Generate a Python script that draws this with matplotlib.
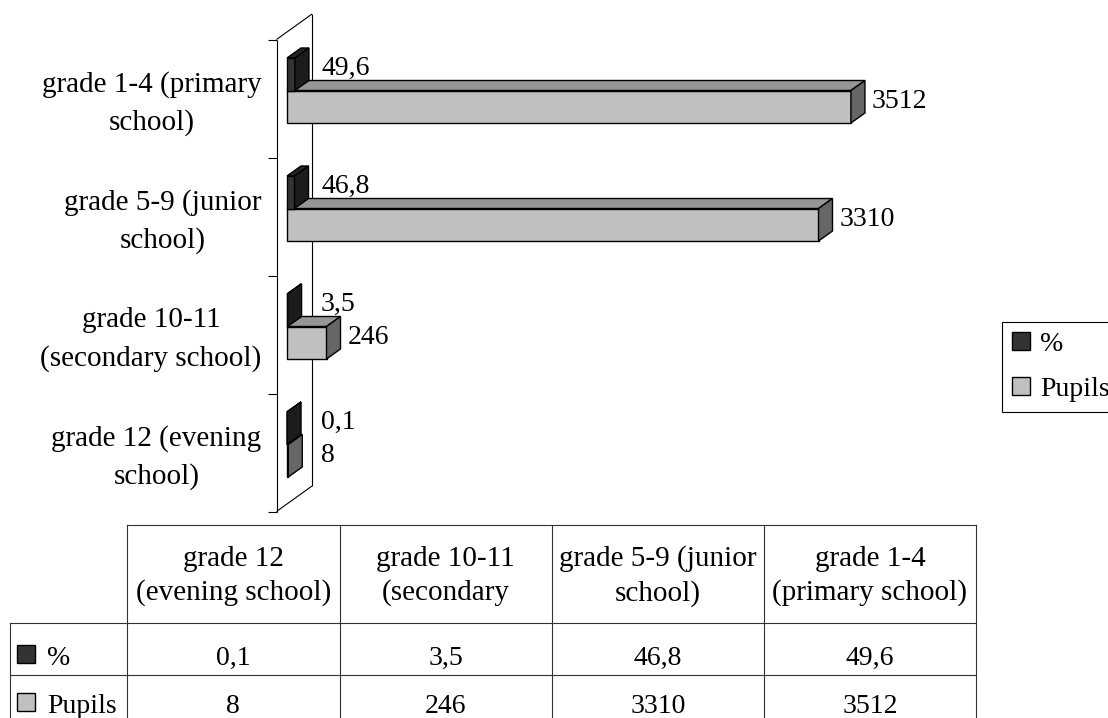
import matplotlib
matplotlib.use("Agg")
import matplotlib.pyplot as plt
from matplotlib.patches import Rectangle, Polygon, Patch
from matplotlib.lines import Line2D
from matplotlib.transforms import Affine2D

plt.rcParams['font.family'] = ['Liberation Serif', 'DejaVu Serif']

W, H = 1108, 718

# groups from the bottom of the chart to the top (= table columns left to right)
axis_labels = ["grade 12 (evening\nschool)", "grade 10-11\n(secondary school)",
               "grade 5-9 (junior\nschool)", "grade 1-4 (primary\nschool)"]
table_labels = ["grade 12\n(evening school)", "grade 10-11\n(secondary",
                "grade 5-9 (junior\nschool)", "grade 1-4\n(primary school)"]
series = ["%", "Pupils"]
percent = [0.1, 3.5, 46.8, 49.6]
pupils = [8, 246, 3310, 3512]

# front / top / side shades of each series
shades = {"%": ("#333333", "#262626", "#1c1c1c"),
          "Pupils": ("#c0c0c0", "#969696", "#666666")}


def fmt(v):
    return f"{v:g}".replace(".", ",")


fig = plt.figure(figsize=(W / 100, H / 100), dpi=100)
ax = fig.add_axes([287 / W, 1 - 503.5 / H, 642.3 / W, 472 / H])
ax.set_xlim(0, 4000)
ax.set_ylim(-0.5, 3.5)
ax.axis('off')

sx = 4000 / 642.3   # data units per pixel
sy = 4 / 472
dx, dy = 14 * sx, 10 * sy      # depth of a bar
bh = 32.5 * sy                 # thickness of a bar
fx, fy = -10.5 * sx, -8 * sy   # front wall
bx, by = 25 * sx, 17.5 * sy    # back wall

wall = dict(color='black', lw=0.8, solid_capstyle='butt', zorder=1, clip_on=False)
ax.plot([bx, bx], [-0.5 + by, 3.5 + by], **wall)
ax.plot([fx, fx], [-0.5 + fy, 3.5 + fy], **wall)
for yy in (-0.5, 3.5):
    ax.plot([fx, bx], [yy + fy, yy + by], **wall)
for yt in (-0.5, 0.5, 1.5, 2.5, 3.5):
    ax.plot([fx - 9 * sx, fx], [yt + fy, yt + fy], **wall)


def bar3d(y0, v, colors, z):
    fc, tc, sc = colors
    kw = dict(ec='black', lw=1.0, joinstyle='miter', zorder=z, clip_on=False)
    ax.add_patch(Rectangle((0, y0), v, bh, fc=fc, **kw))
    ax.add_patch(Polygon([(0, y0 + bh), (v, y0 + bh), (v + dx, y0 + bh + dy),
                          (dx, y0 + bh + dy)], closed=True, fc=tc, **kw))
    ax.add_patch(Polygon([(v, y0), (v + dx, y0 + dy), (v + dx, y0 + bh + dy),
                          (v, y0 + bh)], closed=True, fc=sc, **kw))


for i in range(len(axis_labels)):
    bar3d(i - bh, pupils[i], shades["Pupils"], 3)
    bar3d(i, percent[i], shades["%"], 4)

    ax.text(max(percent[i] + 21 * sx, 34 * sx), i + bh / 2 + 6 * sy, fmt(percent[i]),
            ha='left', va='center', fontsize=20, zorder=6)
    ax.text(max(pupils[i] + 21 * sx, 34 * sx), i - bh / 2 + 5 * sy, fmt(pupils[i]),
            ha='left', va='center', fontsize=20, zorder=6)

    ax.text(fx - 15 * sx, i + fy - 5 * sy, axis_labels[i], ha='right', va='center',
            multialignment='center', fontsize=21, linespacing=1.55)

handles = [Patch(fc=shades[s][0], ec='black', lw=1.0) for s in series]
leg = fig.legend(handles, series, loc='upper left', bbox_to_anchor=(1002 / W, 1 - 322 / H),
                 borderaxespad=0, fancybox=False, edgecolor='black', framealpha=1,
                 fontsize=20, handlelength=0.65, handleheight=0.65, handletextpad=0.36,
                 borderpad=0.35, labelspacing=0.72)
leg.get_frame().set_linewidth(0.8)

# data table below the chart, laid out in pixels from the top-left corner
pix = Affine2D().scale(1, -1).translate(0, H)
cols = [127, 339.5, 551.75, 764, 976]
grid = dict(color='#333333', lw=0.8, transform=pix)
fig.add_artist(Line2D([cols[0], cols[-1]], [525, 525], **grid))
for yy in (623, 675, 727):
    fig.add_artist(Line2D([10, cols[-1]], [yy, yy], **grid))
for xx in cols:
    fig.add_artist(Line2D([xx, xx], [525, 727], **grid))
fig.add_artist(Line2D([10, 10], [623, 727], **grid))

for j in range(len(table_labels)):
    xc = (cols[j] + cols[j + 1]) / 2
    fig.text(xc, 576, table_labels[j], transform=pix, ha='center', va='center',
             multialignment='center', fontsize=21, linespacing=1.35)
    fig.text(xc, 665, fmt(percent[j]), transform=pix, ha='center', va='baseline', fontsize=20)
    fig.text(xc, 713, fmt(pupils[j]), transform=pix, ha='center', va='baseline', fontsize=20)

for s, base in zip(series, (665, 713)):
    fig.add_artist(Rectangle((17, base - 20), 18, 18, fc=shades[s][0], ec='black',
                             lw=1.0, transform=pix))
    fig.text(47, base, s, transform=pix, ha='left', va='baseline', fontsize=20)

fig.savefig("out.png", dpi=100, facecolor='white')
